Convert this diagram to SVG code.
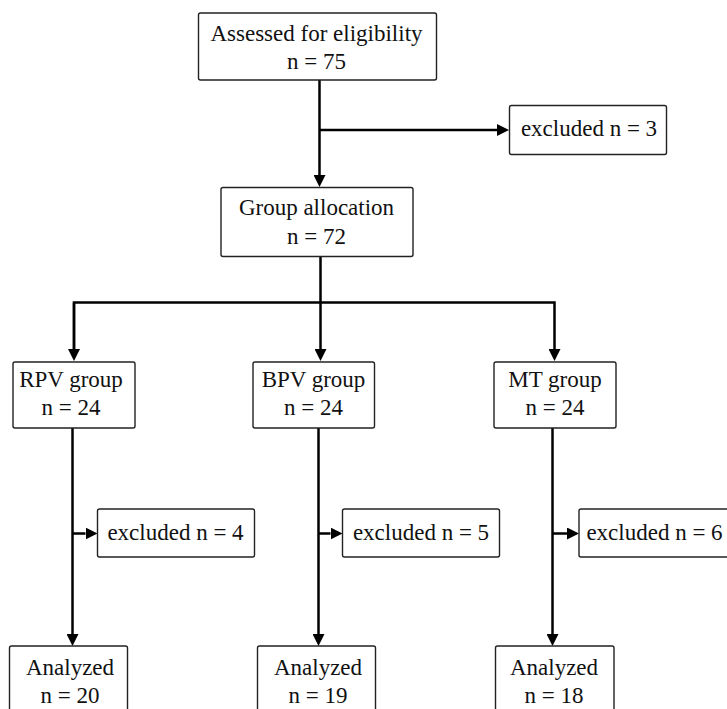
<svg xmlns="http://www.w3.org/2000/svg" width="727" height="709" viewBox="0 0 727 709">
<style>
.box{fill:#fff;stroke:#222;stroke-width:1.4}
.t{font-family:"Liberation Serif","Times New Roman",serif;font-size:23px;fill:#111;text-anchor:middle}
.c{fill:none;stroke:#000;stroke-width:2.5}
</style>
<defs>
<marker id="ah" markerUnits="userSpaceOnUse" markerWidth="12" markerHeight="12" refX="0" refY="6" orient="auto" viewBox="0 0 12 12">
<path d="M0,0 L12,6 L0,12 Z" fill="#000"/>
</marker>
</defs>
<rect width="727" height="709" fill="#fff"/>
<g id="connectors">
<path class="c" d="M319.5,80 V175" marker-end="url(#ah)"/>
<path class="c" d="M319.5,130 H497" marker-end="url(#ah)"/>
<path class="c" d="M320.5,257 V349"  marker-end="url(#ah)"/>
<path class="c" d="M74,349 V302.5 H554.5 V349" marker-end="url(#ah)"/>
<path class="c" d="M74,302.5 V349" marker-end="url(#ah)"/>
<path class="c" d="M72.5,428 V634" marker-end="url(#ah)"/>
<path class="c" d="M318.5,428 V634" marker-end="url(#ah)"/>
<path class="c" d="M552.5,428 V634" marker-end="url(#ah)"/>
<path class="c" d="M72.5,533.5 H85.5" marker-end="url(#ah)"/>
<path class="c" d="M318.5,533.5 H330.5" marker-end="url(#ah)"/>
<path class="c" d="M552.5,533.5 H567" marker-end="url(#ah)"/>
</g>
<g id="assessed">
<rect class="box" x="198.5" y="13" width="238" height="67" rx="2"/>
<text class="t" x="316.5" y="40.5">Assessed for eligibility</text>
<text class="t" x="316.5" y="68.5">n = 75</text>
</g>
<g id="excluded0">
<rect class="box" x="509.5" y="105.5" width="157" height="49" rx="2"/>
<text class="t" x="589" y="136">excluded n = 3</text>
</g>
<g id="allocation">
<rect class="box" x="221" y="187.5" width="192" height="69" rx="2"/>
<text class="t" x="316.5" y="215">Group allocation</text>
<text class="t" x="316.5" y="244">n = 72</text>
</g>
<g id="rpv">
<rect class="box" x="13" y="362" width="122" height="66" rx="2"/>
<text class="t" x="71" y="387">RPV group</text>
<text class="t" x="71" y="415">n = 24</text>
</g>
<g id="bpv">
<rect class="box" x="253" y="362" width="121.5" height="66" rx="2"/>
<text class="t" x="313.5" y="387">BPV group</text>
<text class="t" x="313.5" y="415">n = 24</text>
</g>
<g id="mt">
<rect class="box" x="494" y="362" width="122" height="66" rx="2"/>
<text class="t" x="555" y="387">MT group</text>
<text class="t" x="555" y="415">n = 24</text>
</g>
<g id="excluded1">
<rect class="box" x="97.5" y="509" width="157" height="48" rx="2"/>
<text class="t" x="175.5" y="539.5">excluded n = 4</text>
</g>
<g id="excluded2">
<rect class="box" x="342.5" y="509" width="157" height="48" rx="2"/>
<text class="t" x="421" y="539.5">excluded n = 5</text>
</g>
<g id="excluded3">
<rect class="box" x="579" y="509" width="157" height="48" rx="2"/>
<text class="t" x="654.5" y="539.5">excluded n = 6</text>
</g>
<g id="analyzed1">
<rect class="box" x="9.5" y="646" width="118" height="70" rx="2"/>
<text class="t" x="70" y="674.5">Analyzed</text>
<text class="t" x="70" y="702.5">n = 20</text>
</g>
<g id="analyzed2">
<rect class="box" x="257.5" y="646" width="118" height="70" rx="2"/>
<text class="t" x="318" y="674.5">Analyzed</text>
<text class="t" x="318" y="702.5">n = 19</text>
</g>
<g id="analyzed3">
<rect class="box" x="495.5" y="646" width="118.5" height="70" rx="2"/>
<text class="t" x="554" y="674.5">Analyzed</text>
<text class="t" x="554" y="702.5">n = 18</text>
</g>
</svg>
